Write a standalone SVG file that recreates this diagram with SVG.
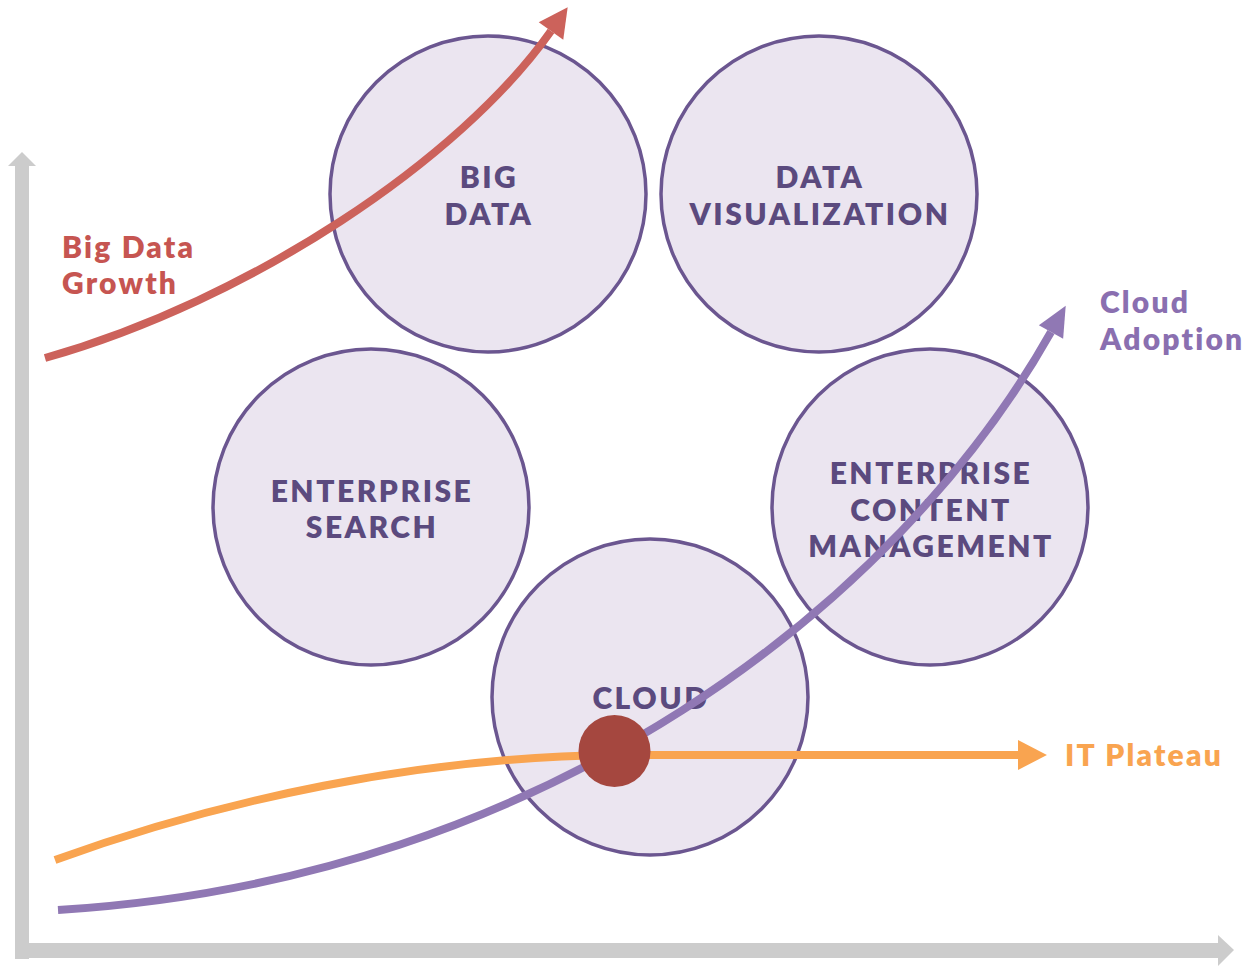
<svg xmlns="http://www.w3.org/2000/svg" width="1253" height="967" viewBox="0 0 1253 967">
<style>
.c{fill:#ebe5f0;stroke:#6b5690;stroke-width:3.5}
.t{font-family:Lato,"Liberation Sans",sans-serif;font-weight:800;font-size:30px;fill:#5b4a7e;text-anchor:middle;letter-spacing:2.5px}
.lbl{font-family:Lato,"Liberation Sans",sans-serif;font-weight:800;font-size:30px;letter-spacing:2.2px}
.cv{fill:none;stroke-width:8}
</style>
<defs>
<marker id="mr" markerUnits="userSpaceOnUse" markerWidth="30" markerHeight="30" refX="0" refY="14" orient="auto" viewBox="0 0 28 28" overflow="visible"><path d="M0,0 L27,14 L0,28 z" fill="#cc625b"/></marker>
<marker id="mp" markerUnits="userSpaceOnUse" markerWidth="30" markerHeight="30" refX="0" refY="13" orient="auto" viewBox="0 0 28 26" overflow="visible"><path d="M0,0 L28,13 L0,26 z" fill="#9078b4"/></marker>
<marker id="mo" markerUnits="userSpaceOnUse" markerWidth="30" markerHeight="30" refX="0" refY="14" orient="auto" viewBox="0 0 28 28" overflow="visible"><path d="M0,0 L27,14 L0,28 z" fill="#f9a450"/></marker>
</defs>
<rect width="1253" height="967" fill="#ffffff"/>
<g id="axes" fill="#cccccc">
<rect x="15" y="164" width="14" height="795"/>
<polygon points="8,166 22,152 36,166"/>
<rect x="15" y="943" width="1205" height="15"/>
<polygon points="1218,935 1234,950 1218,966"/>
</g>
<g id="node-bigdata"><circle class="c" cx="488" cy="194" r="158"/><text class="t" x="489" y="188">BIG</text><text class="t" x="489" y="225">DATA</text></g>
<g id="node-dataviz"><circle class="c" cx="819" cy="194" r="158"/><text class="t" x="820" y="188">DATA</text><text class="t" x="820" y="225">VISUALIZATION</text></g>
<g id="node-search"><circle class="c" cx="371" cy="507" r="158"/><text class="t" x="372" y="502">ENTERPRISE</text><text class="t" x="372" y="538">SEARCH</text></g>
<g id="node-ecm"><circle class="c" cx="930" cy="507" r="158"/><text class="t" x="931" y="484">ENTERPRISE</text><text class="t" x="931" y="521">CONTENT</text><text class="t" x="931" y="557">MANAGEMENT</text></g>
<g id="node-cloud"><circle class="c" cx="650" cy="697" r="158"/><text class="t" x="651" y="709">CLOUD</text></g>
<g id="connectors">
<path class="cv" stroke="#cc625b" d="M45,358 C250,300 460,160 551,31" marker-end="url(#mr)"/>
<path class="cv" stroke="#f9a450" d="M55,860 C220,800 420,757 615,755 L1018,755" marker-end="url(#mo)"/>
<path class="cv" stroke="#9078b4" d="M58,910 C550,880 900,600 1051,332" marker-end="url(#mp)"/>
</g>
<g id="dot"><circle cx="614.5" cy="751" r="36" fill="#a5473f"/></g>
<g id="labels">
<text class="lbl" fill="#c65551" x="62" y="258">Big Data</text>
<text class="lbl" fill="#c65551" x="62" y="294">Growth</text>
<text class="lbl" fill="#8a6fb0" x="1100" y="313">Cloud</text>
<text class="lbl" fill="#8a6fb0" x="1100" y="350">Adoption</text>
<text class="lbl" fill="#f9a450" x="1065" y="766">IT Plateau</text>
</g>
</svg>
